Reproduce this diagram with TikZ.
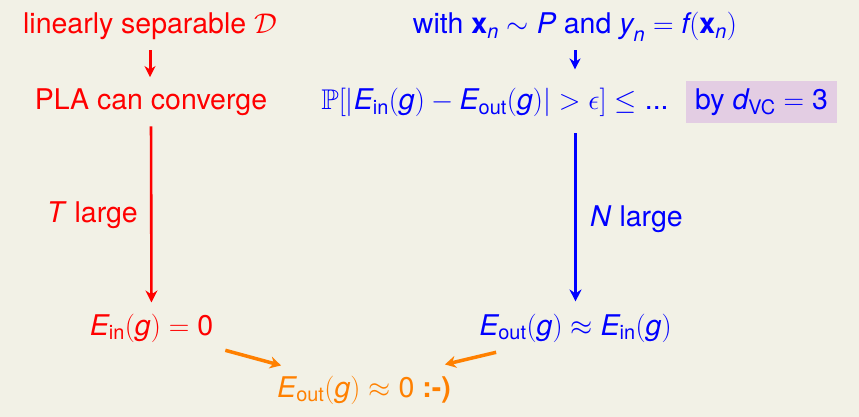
\RequirePackage{fix-cm}
\documentclass[tikz,border=0pt]{standalone}
\usepackage{amsmath,amssymb}
\usepackage{fontspec}
\setmainfont{TeX Gyre Heros}
\usetikzlibrary{arrows.meta}
\definecolor{bg}{HTML}{F2F1E6}
\definecolor{myred}{HTML}{FF0000}
\definecolor{myblue}{HTML}{0000FF}
\definecolor{myorange}{HTML}{FF8000}
\definecolor{lilac}{HTML}{E3CDE3}
\newcommand\V[1]{\text{\itshape #1}}
\newcommand\Bx{\text{\bfseries x}}
\newcommand\Ein{\V{E}_{\text{in}}}
\newcommand\Eout{\V{E}_{\text{out}}}
\newcommand\pg{(\V{g})}
\begin{document}
\begin{tikzpicture}[x=1pt,y=-1pt,
  txt/.style={inner sep=0pt,anchor=base,font=\fontsize{28.5}{34}\selectfont},
  longarrow/.style={line width=2.6pt,-{Stealth[length=12pt,width=12pt,inset=4pt]}},
  shortarrow/.style={line width=3pt,-{Stealth[length=11pt,width=11pt,inset=3.5pt]}},
  joinarrow/.style={line width=3.5pt,-{Stealth[length=11pt,width=12pt,inset=3.5pt]}}]
\fill[bg] (0,0) rectangle (859,417);
\useasboundingbox (0,0) rectangle (859,417);
% left column
\node[txt,text=myred] (lin) at (150,34) {linearly separable $\mathcal{D}$};
\node[txt,text=myred] (pla) at (151,110) {PLA can converge};
\node[txt,text=myred] (ein) at (151.5,335) {$\Ein\pg = \text{0}$};
\node[txt,text=myred,anchor=base east] (tl) at (138,222) {\textit{T} large};
% right column
\node[txt,text=myblue] (top) at (575,34) {with $\Bx_{\V{n}} \sim \V{P}$ and $\V{y}_{\V{n}} = \V{f}(\Bx_{\V{n}})$};
\node[txt,text=myblue] (prob) at (495,110) {$\mathbb{P}[|\Ein\pg - \Eout\pg| > \epsilon] \le \text{...}$};
\node[fill=lilac,text=myblue,inner sep=0pt,minimum width=151pt,minimum height=42pt,anchor=center,
  font=\fontsize{28.5}{34}\selectfont] (vc) at (761.5,102) {by $\V{d}_{\text{VC}} = \text{3}$};
\node[txt,text=myblue] (eoe) at (575.5,335) {$\Eout\pg \approx \Ein\pg$};
\node[txt,text=myblue,anchor=base west] (nl) at (590,226) {\textit{N} large};
% bottom
\node[txt,text=myorange] (bot) at (364,397) {$\Eout\pg \approx \text{0}$ \textbf{:-)}};
% arrows
\draw[shortarrow,myred,shorten <=10pt,shorten >=12pt] (lin.south) -- (lin.south |- pla.north);
\draw[longarrow,myred,shorten <=10pt,shorten >=11pt] (pla.south) -- (ein.north);
\draw[shortarrow,myblue,shorten <=9pt,shorten >=19pt] (top.south) -- (top.south |- prob.north);
\draw[longarrow,myblue,shorten <=16pt,shorten >=12pt] (prob.south -| eoe.north) -- (eoe.north);
\draw[joinarrow,myorange] ([shift={(12,8)}]ein.south east) -- ([shift={(4,-10)}]bot.north west);
\draw[joinarrow,myorange] ([shift={(17,10)}]eoe.south west) -- ([shift={(-6,-11)}]bot.north east);
\end{tikzpicture}
\end{document}
